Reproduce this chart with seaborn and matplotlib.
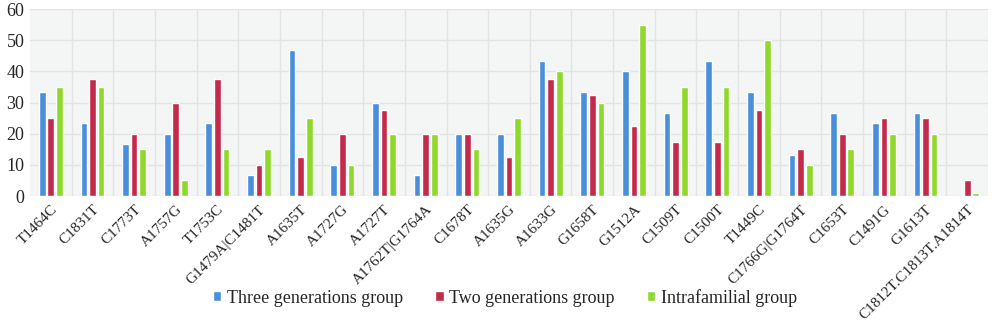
import matplotlib
matplotlib.use("Agg")
import matplotlib.pyplot as plt
import seaborn as sns
import pandas as pd

categories = ["T1464C", "C1831T", "C1773T", "A1757G", "T1753C", "G1479A|C1481T",
              "A1635T", "A1727G", "A1727T", "A1762T|G1764A", "C1678T", "A1635G",
              "A1633G", "G1658T", "G1512A", "C1509T", "C1500T", "T1449C",
              "C1766G|G1764T", "C1653T", "C1491G", "G1613T", "C1812T.C1813T.A1814T"]
three_gen = [33.3, 23.3, 16.7, 20, 23.3, 6.7, 46.7, 10, 30, 6.7, 20, 20,
             43.3, 33.3, 40, 26.7, 43.3, 33.3, 13.3, 26.7, 23.3, 26.7, 0]
two_gen = [25, 37.5, 20, 30, 37.5, 10, 12.5, 20, 27.5, 20, 20, 12.5,
           37.5, 32.5, 22.5, 17.5, 17.5, 27.5, 15, 20, 25, 25, 5]
intrafam = [35, 35, 15, 5, 15, 15, 25, 10, 20, 20, 15, 25,
            40, 30, 55, 35, 35, 50, 10, 15, 20, 20, 1]
series_names = ["Three generations group", "Two generations group", "Intrafamilial group"]
colors = ["#4a8fdc", "#c42a4c", "#8fd92c"]

rows = []
for name, vals in zip(series_names, [three_gen, two_gen, intrafam]):
    for c, v in zip(categories, vals):
        rows.append({"cat": c, "group": name, "value": v})
df = pd.DataFrame(rows)

sns.set_style("white")
plt.rcParams["font.family"] = ["Liberation Serif", "DejaVu Serif"]

fig = plt.figure(figsize=(10, 3.23), dpi=100)
ax = fig.add_axes([0.03, 0.393, 0.958, 0.579])
ax.set_facecolor("#f4f5f5")

sns.barplot(data=df, x="cat", y="value", hue="group", order=categories,
            hue_order=series_names, palette=colors, width=0.62, gap=0.22,
            saturation=1, ax=ax, legend=True)

ax.set_ylim(0, 60)
ax.set_yticks(range(0, 61, 10))
ax.set_xlim(-0.5, len(categories) - 0.5)
ax.set_xlabel("")
ax.set_ylabel("")
ax.set_xticks(range(len(categories)))
ax.set_xticks([i + 0.5 for i in range(len(categories) - 1)], minor=True)
ax.grid(True, axis="y", color="#e2e4e4", linewidth=1)
ax.grid(True, axis="x", which="minor", color="#e2e4e4", linewidth=1)
ax.grid(False, axis="x", which="major")
ax.set_axisbelow(True)
for s in ax.spines.values():
    s.set_visible(False)
ax.tick_params(axis="both", which="both", length=0)
ax.tick_params(axis="y", labelsize=13, pad=4)
ax.set_xticklabels(categories, rotation=45, ha="right", rotation_mode="anchor", fontsize=11)
ax.tick_params(axis="x", pad=5)

leg = ax.legend(loc="center", bbox_to_anchor=(0.505, 0.078), bbox_transform=fig.transFigure,
                ncol=3, frameon=False, fontsize=13, handlelength=0.45, handleheight=0.45,
                handletextpad=0.3, columnspacing=1.8)

fig.savefig("out.png", dpi=100, facecolor="white")
